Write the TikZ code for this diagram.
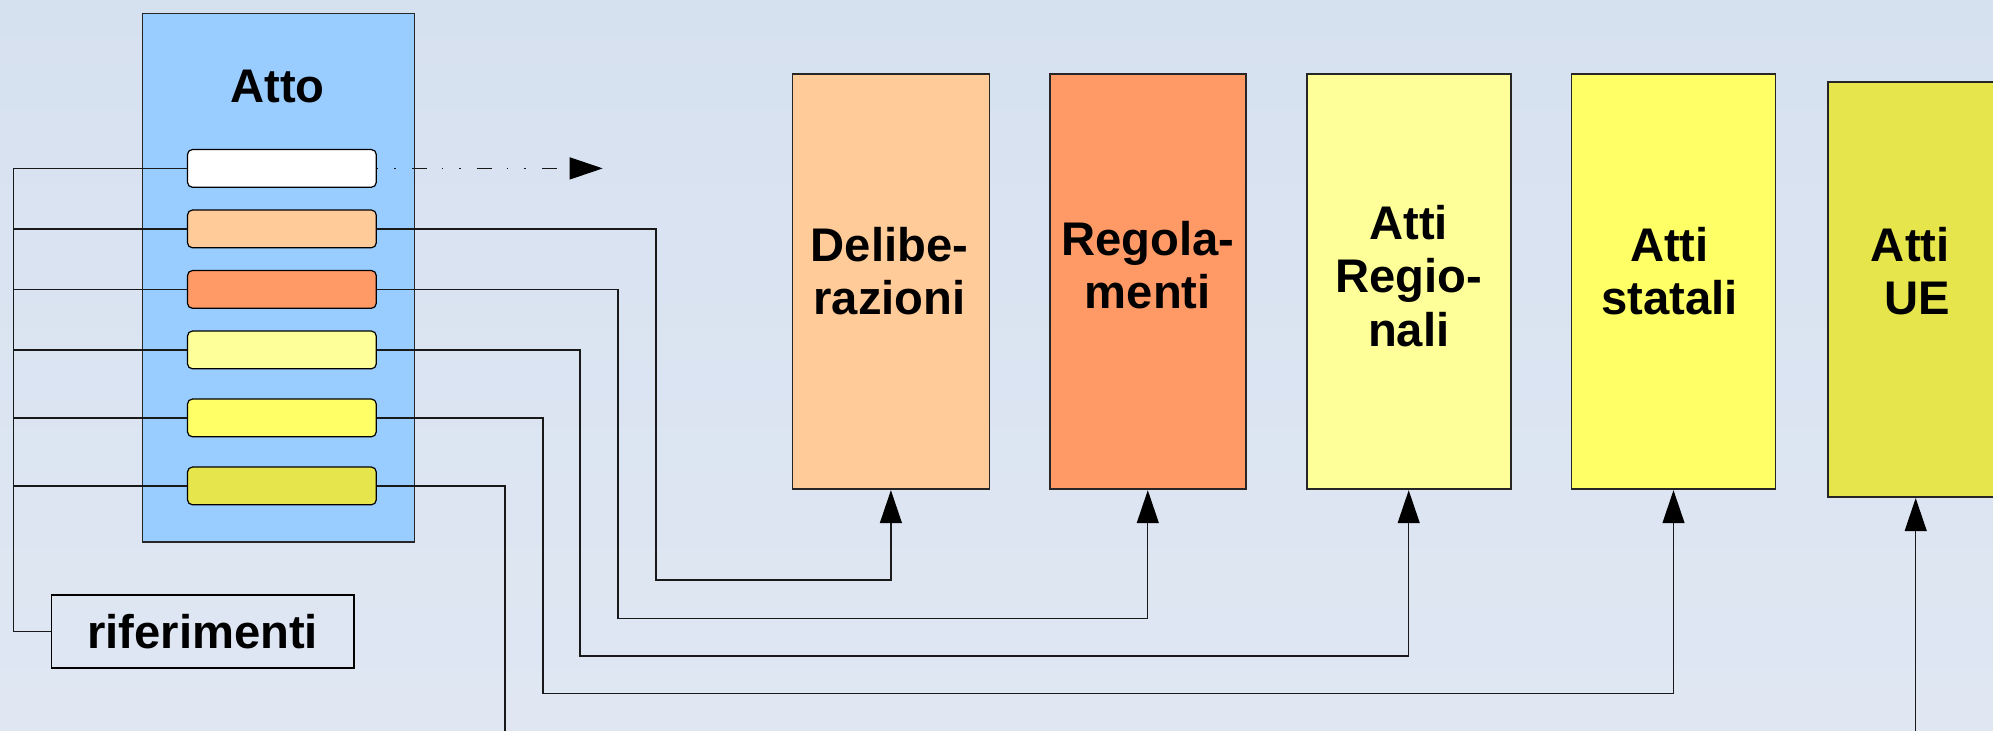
\documentclass[tikz,border=0pt]{standalone}
\usepackage{fontspec}
\setmainfont{Liberation Sans}
\usetikzlibrary{arrows.meta}

\definecolor{bgtop}{HTML}{D6E1F0}
\definecolor{bgbot}{HTML}{E0E7F3}
\definecolor{attoblue}{HTML}{99CCFF}
\definecolor{peach}{HTML}{FFCC99}
\definecolor{coral}{HTML}{FF9966}
\definecolor{paleyellow}{HTML}{FFFF99}
\definecolor{brightyellow}{HTML}{FFFF66}
\definecolor{olive}{HTML}{E6E64C}

\begin{document}
\begin{tikzpicture}[x=0.5pt,y=-0.5pt,
  doc/.style={draw=black!85, line width=0.9pt, inner sep=0pt},
  tall/.style={doc, minimum height=207.8pt},
  slot/.style={draw=black, line width=0.6pt, rounded corners=2.5pt,
    minimum width=94.4pt, minimum height=18.9pt, inner sep=0pt},
  title/.style={font=\bfseries\fontsize{23.6}{26.6}\selectfont, align=center, inner sep=0pt},
  wire/.style={draw=black!90, line width=0.65pt},
  arrow/.style={wire, -{Triangle[length=16.5pt,width=11pt,color=black]}},
  dashdot/.style={dash pattern=on 0.75pt off 8pt on 0.75pt off 8pt on 7.5pt off 7.5pt}]

% page and background
\shade[top color=bgtop, bottom color=bgbot] (0,0) rectangle (1993,730);
\useasboundingbox (0,0) rectangle (1993,730);
\clip (0,0) rectangle (1993,730);

% the act with its reference slots
\node[doc, fill=attoblue, minimum width=136pt, minimum height=264.2pt] (atto) at (278.4,277.7) {};
\node[title] (attoT) at (277.5,86) {Atto};
\foreach \n/\y/\c in {1/168.4/white, 2/228.9/peach, 3/289.4/coral,
                      4/349.9/paleyellow, 5/417.9/brightyellow, 6/485.9/olive}
  \node[slot, fill=\c] (b\n) at (281.9,\y) {};

% references box
\node[doc, draw=black, minimum width=151.3pt, minimum height=36.4pt, title] (rif) at (202.7,631.7) {riferimenti};

% target document classes
\node[tall, fill=peach, minimum width=98.5pt] (del) at (890.9,281.5) {};
\node[title] (delT) at (889.5,271) {Delibe-\\razioni};
\node[tall, fill=coral, minimum width=98.2pt] (reg) at (1147.8,281.5) {};
\node[title] (regT) at (1147.8,265.5) {Regola-\\menti};
\node[tall, fill=paleyellow, minimum width=102pt] (rgn) at (1408.7,281.5) {};
\node[title] (rgnT) at (1408.7,276) {Atti\\Regio-\\nali};
\node[tall, fill=brightyellow, minimum width=102pt] (sta) at (1673.5,281.5) {};
\node[title] (staT) at (1669.5,271) {Atti\\statali};
\node[tall, fill=olive, minimum width=87.5pt] (ue) at (1915.7,289.4) {};
\node[title, align=right, anchor=east] (ueT) at (1950,271) {Atti\\UE};

% left bus collecting the slots into the references box
\coordinate (spine) at (13.4,0);
\draw[wire] (rif.west) -| (spine |- b1.west) -- (b1.west);
\foreach \n in {2,...,6}
  \draw[wire] (b\n.west) -- (spine |- b\n.west);

% open outgoing link
\coordinate (out) at (602.7,168.4);
\draw[arrow, dashdot] (b1.east) -- (out);

% links from slots to document classes
\coordinate (k2) at (656,580);
\coordinate (k3) at (618,618.2);
\coordinate (k4) at (580,656);
\coordinate (k5) at (543,693.7);
\coordinate (k6) at (505,760);
\draw[arrow] (b2.east) -| (k2) -| (del.south);
\draw[arrow] (b3.east) -| (k3) -| (reg.south);
\draw[arrow] (b4.east) -| (k4) -| (rgn.south);
\draw[arrow] (b5.east) -| (k5) -| (sta.south);
\draw[arrow] (b6.east) -| (k6) -| (ue.south);
\end{tikzpicture}
\end{document}
